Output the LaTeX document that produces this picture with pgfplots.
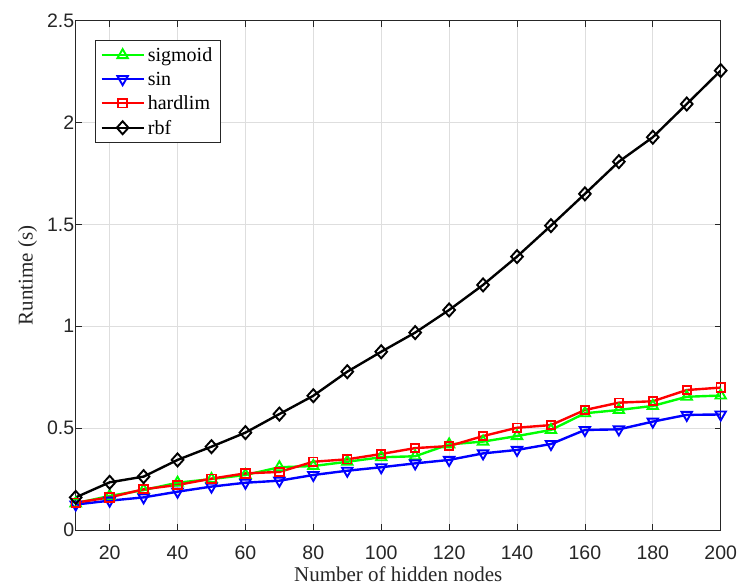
\documentclass[border=0pt]{standalone}
\usepackage{pgfplots}
\pgfplotsset{compat=1.18}
\usepackage{fontspec}
\setmainfont{Liberation Serif}
\setsansfont{Liberation Sans}
\definecolor{axgray}{rgb}{0.15,0.15,0.15}
\definecolor{gridgray}{rgb}{0.87,0.87,0.87}
\begin{document}
\begin{tikzpicture}
\begin{axis}[
  scale only axis,
  width=645pt, height=509.3pt,
  xmin=10, xmax=200, ymin=0, ymax=2.5,
  xtick={20,40,...,200},
  ytick={0,0.5,1,1.5,2,2.5},
  /pgf/number format/assume math mode=true,
  tick label style={font=\sffamily\fontsize{19.5}{21}\selectfont, color=axgray},
  yticklabel style={/pgf/number format/fixed, xshift=2pt},
  xticklabel style={yshift=-12pt},
  grid=major,
  major grid style={gridgray, line width=0.8pt},
  tick align=inside,
  major tick length=6pt,
  tick style={axgray, line width=0.8pt},
  axis line style={axgray, line width=0.8pt},
  xlabel={Number of hidden nodes},
  ylabel={Runtime (s)},
  label style={font=\fontsize{21}{23}\selectfont, color=axgray},
  xlabel style={at={(axis description cs:0.5,0)}, anchor=base, yshift=-51.7pt},
  ylabel style={yshift=3pt},
  legend style={at={(0.030,0.962)}, anchor=north west, draw=axgray, line width=0.8pt,
    font=\fontsize{20}{22}\selectfont, row sep=5pt, inner xsep=5pt, inner ysep=5pt,
    nodes={inner xsep=3pt}},
  legend cell align=left,
  legend image code/.code={\draw[mark repeat=2, mark phase=2] plot coordinates {(0pt,0pt) (21pt,0pt) (42pt,0pt)};},
  every axis plot/.append style={line width=2.4pt},
]
\addplot[color={rgb,1:red,0;green,1;blue,0}, line width=2.4pt, mark=triangle, mark size=6pt, mark options={solid, line width=1.9pt}] coordinates {
(10,0.131) (20,0.167) (30,0.196) (40,0.232) (50,0.250) (60,0.270) (70,0.308) (80,0.314) (90,0.335) (100,0.357)
(110,0.362) (120,0.420) (130,0.434) (140,0.461) (150,0.491) (160,0.573) (170,0.589) (180,0.609) (190,0.654) (200,0.660)};
\addlegendentry{sigmoid}
\addplot[color=blue, line width=2.4pt, mark=triangle, mark size=6pt, mark options={solid, rotate=180, line width=1.9pt}] coordinates {
(10,0.125) (20,0.144) (30,0.160) (40,0.188) (50,0.213) (60,0.232) (70,0.242) (80,0.270) (90,0.291) (100,0.308)
(110,0.327) (120,0.344) (130,0.376) (140,0.393) (150,0.422) (160,0.491) (170,0.494) (180,0.532) (190,0.565) (200,0.567)};
\addlegendentry{sin}
\addplot[color=red, line width=2.4pt, mark=square, mark size=4.2pt, mark options={solid, line width=1.9pt}] coordinates {
(10,0.134) (20,0.160) (30,0.200) (40,0.221) (50,0.252) (60,0.278) (70,0.285) (80,0.335) (90,0.347) (100,0.373)
(110,0.402) (120,0.412) (130,0.461) (140,0.502) (150,0.515) (160,0.589) (170,0.625) (180,0.632) (190,0.687) (200,0.699)};
\addlegendentry{hardlim}
\addplot[color=black, line width=2.4pt, mark=diamond, mark size=6.5pt, mark options={solid, xscale=1.2, line width=1.9pt}] coordinates {
(10,0.160) (20,0.234) (30,0.262) (40,0.344) (50,0.409) (60,0.478) (70,0.569) (80,0.659) (90,0.777) (100,0.875)
(110,0.969) (120,1.080) (130,1.203) (140,1.342) (150,1.494) (160,1.650) (170,1.808) (180,1.928) (190,2.091) (200,2.255)};
\addlegendentry{rbf}
\end{axis}
\pgfresetboundingbox
\path (current axis.south west) ++(-75.7pt,-57pt) coordinate (bbA);
\path (current axis.north east) ++(16.3pt,20.7pt) coordinate (bbB);
\path[use as bounding box] (bbA) rectangle (bbB);
\end{tikzpicture}
\end{document}
